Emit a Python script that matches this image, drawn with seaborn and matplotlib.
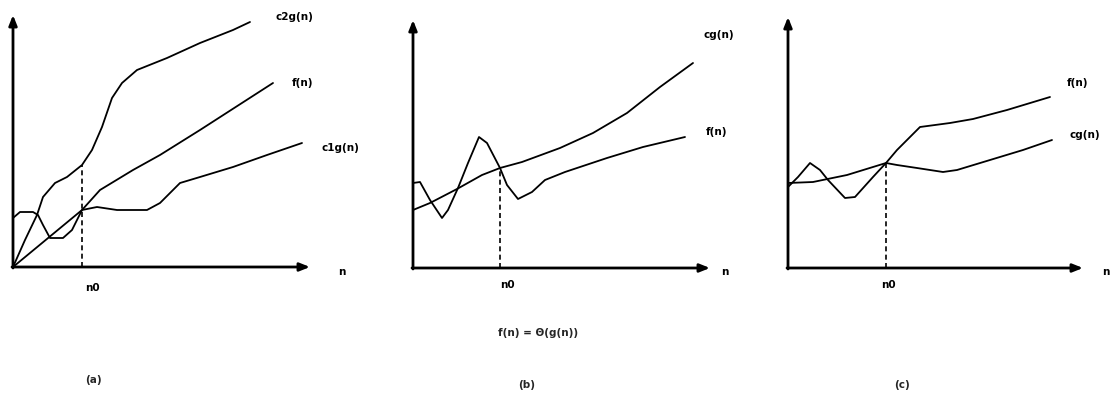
import matplotlib
matplotlib.use("Agg")
import matplotlib.pyplot as plt
import seaborn as sns
import pandas as pd

sns.set_theme(style="white")
plt.rcParams['font.family'] = ['DejaVu Sans']

# ---------------- data (relative to each panel's origin) ----------------
# Panel (a): f(n) = Theta(g(n))
a_c2g_x = [0, 12, 24, 30, 42, 54, 69, 79, 89, 99, 109, 124, 154, 187, 220, 237]
a_c2g_y = [0, 27, 52, 70, 84, 90, 102, 117, 140, 169, 184, 197, 209, 224, 237, 245]
a_f_x = [0, 69, 87, 120, 147, 187, 260]
a_f_y = [0, 57, 77, 97, 112, 137, 184]
a_c1g_x = [0, 7, 20, 25, 30, 37, 50, 59, 69, 84, 104, 134, 147, 167, 187, 220, 254, 289]
a_c1g_y = [49, 55, 55, 52, 42, 29, 29, 37, 57, 60, 57, 57, 64, 84, 90, 100, 112, 124]
a_n0 = 69
a_n0_top = 102

# Panel (b): f(n) = O(g(n))
b_cg_x = [0, 17, 44, 69, 87, 109, 147, 180, 214, 247, 280]
b_cg_y = [58, 65, 79, 93, 100, 106, 120, 135, 155, 181, 205]
b_f_x = [0, 7, 17, 29, 35, 45, 55, 66, 74, 87, 94, 105, 119, 132, 152, 194, 230, 272]
b_f_y = [85, 86, 68, 50, 58, 80, 105, 131, 125, 100, 83, 69, 76, 88, 96, 110, 121, 131]
b_n0 = 87
b_n0_top = 100

# Panel (c): f(n) = Omega(g(n))
c_f_x = [0, 10, 22, 32, 40, 57, 67, 85, 98, 109, 132, 162, 185, 219, 262]
c_f_y = [81, 91, 105, 98, 88, 70, 71, 91, 105, 118, 141, 145, 149, 158, 171]
c_cg_x = [0, 25, 59, 98, 109, 129, 155, 169, 202, 235, 264]
c_cg_y = [85, 86, 93, 105, 103, 100, 96, 98, 108, 118, 128]
c_n0 = 98
c_n0_top = 105

# labels
a_labels = ["c2g(n)", "f(n)", "c1g(n)"]
b_labels = ["cg(n)", "f(n)"]
c_labels = ["f(n)", "cg(n)"]
axis_label = "n"
n0_label = "n0"
caption = "f(n) = \u0398(g(n))"
panel_tags = ["(a)", "(b)", "(c)"]

W, H = 1111, 394
fig = plt.figure(figsize=(W / 100, H / 100), dpi=100)
fig.patch.set_facecolor("white")

FS = 7.5
LW = 1.3


def make_axes(ox, oy, bx0, bx1, by0=0, by1=300):
    ax = fig.add_axes([bx0 / W, 1 - by1 / H, (bx1 - bx0) / W, (by1 - by0) / H])
    ax.set_xlim(bx0 - ox, bx1 - ox)
    ax.set_ylim(oy - by1, oy - by0)
    ax.axis("off")
    return ax


def curve(ax, xs, ys):
    df = pd.DataFrame({"x": xs, "y": ys})
    sns.lineplot(data=df, x="x", y="y", ax=ax, sort=False, estimator=None,
                 color="black", lw=LW)


def axes_arrows(ax, xlen, ylen):
    ax.annotate("", xy=(xlen, 0), xytext=(-1, 0),
                arrowprops=dict(arrowstyle="-|>,head_length=0.5,head_width=0.2",
                                color="black", lw=2, shrinkA=0, shrinkB=0))
    ax.annotate("", xy=(0, ylen), xytext=(0, -1),
                arrowprops=dict(arrowstyle="-|>,head_length=0.5,head_width=0.2",
                                color="black", lw=2, shrinkA=0, shrinkB=0))


def n0_line(ax, x, top):
    sns.lineplot(x=[x, x], y=[0, top], ax=ax, color="black", lw=1.2,
                 linestyle=(0, (3, 2)), estimator=None, sort=False)


def txt(ax, x, y, s, ha="left"):
    ax.text(x, y, s, fontsize=FS, fontweight="bold", ha=ha, va="center",
            color="black")


# Panel (a)
axA = make_axes(13, 267, 0, 370)
axes_arrows(axA, 297, 252)
curve(axA, a_c2g_x, a_c2g_y)
curve(axA, a_f_x, a_f_y)
curve(axA, a_c1g_x, a_c1g_y)
n0_line(axA, a_n0, a_n0_top)
txt(axA, 262, 250, a_labels[0])
txt(axA, 279, 184, a_labels[1])
txt(axA, 308, 119, a_labels[2])
txt(axA, 325, -5, axis_label)
txt(axA, 79, -21, n0_label, ha="center")

# Panel (b)
axB = make_axes(413, 268, 370, 740)
axes_arrows(axB, 297, 248)
curve(axB, b_cg_x, b_cg_y)
curve(axB, b_f_x, b_f_y)
n0_line(axB, b_n0, b_n0_top)
txt(axB, 290, 233, b_labels[0])
txt(axB, 293, 136, b_labels[1])
txt(axB, 308, -4, axis_label)
txt(axB, 94, -17, n0_label, ha="center")

# Panel (c)
axC = make_axes(788, 268, 740, 1111)
axes_arrows(axC, 295, 251)
curve(axC, c_f_x, c_f_y)
curve(axC, c_cg_x, c_cg_y)
n0_line(axC, c_n0, c_n0_top)
txt(axC, 279, 185, c_labels[0])
txt(axC, 282, 133, c_labels[1])
txt(axC, 314, -4, axis_label)
txt(axC, 100, -17, n0_label, ha="center")

# Caption and panel tags
fig.text(538 / W, 1 - 333 / H, caption, fontsize=FS, fontweight="bold",
         ha="center", va="center")
for tag, px, py in zip(panel_tags, [93, 527, 902], [380, 385, 385]):
    fig.text(px / W, 1 - py / H, tag, fontsize=FS, fontweight="bold",
             ha="center", va="center")

fig.savefig("out.png", dpi=100, facecolor="white")
